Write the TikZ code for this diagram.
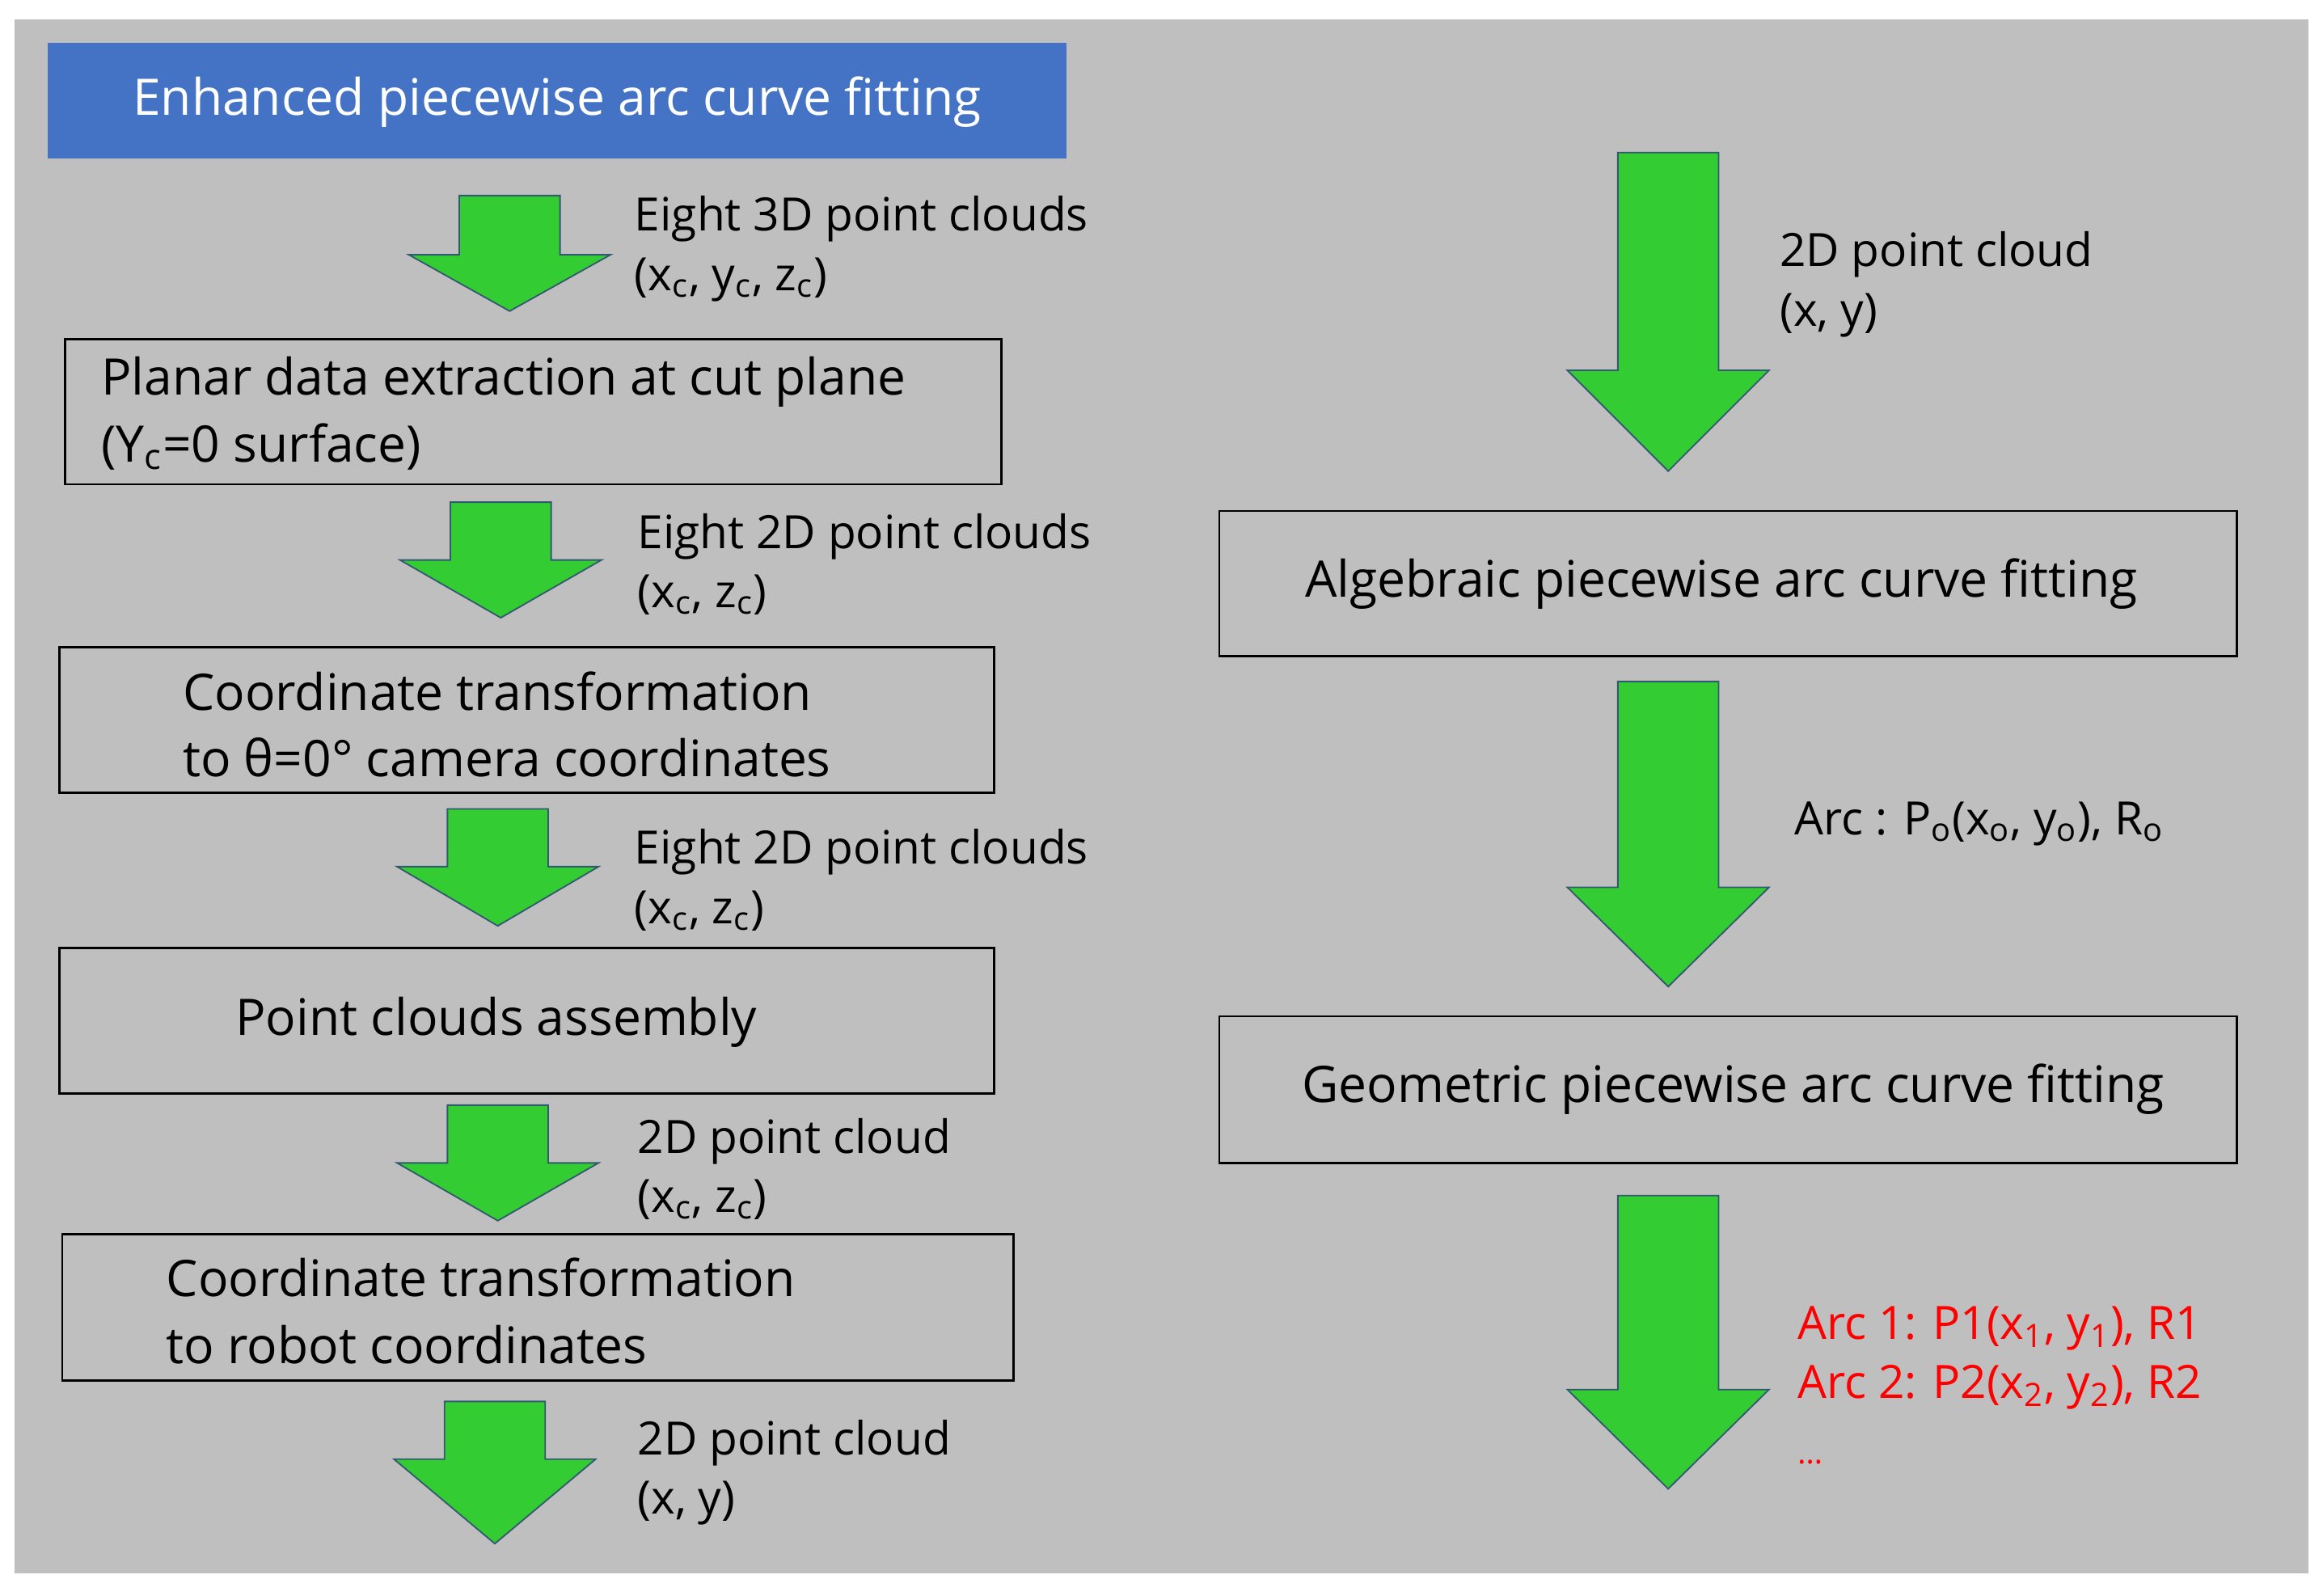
\documentclass[tikz,border=0pt]{standalone}
\usepackage{fontspec}
\setmainfont{Open Sans}
\definecolor{bg}{RGB}{191,191,191}
\definecolor{blu}{RGB}{68,114,196}
\definecolor{grn}{RGB}{51,204,51}
\definecolor{edg}{RGB}{50,90,110}
\begin{document}
\begin{tikzpicture}[x=0.5pt,y=-0.5pt,
  box/.style={draw=black,line width=0.7pt,fill=none},
  lbl/.style={anchor=west,align=left,inner sep=0pt,font=\fontsize{15.5}{20}\selectfont},
  btxt/.style={inner sep=0pt,align=left,font=\fontsize{17}{22.5}\selectfont},
  arr/.style={fill=grn,draw=edg,line width=0.5pt}]
\useasboundingbox (0,0) rectangle (1568,1077);
\fill[white] (0,0) rectangle (1568,1077);
\fill[bg] (10,13) rectangle (1558,1062);
% title
\fill[blu] (32,29) rectangle (720,107);
\node[btxt,text=white] (title) at (376,69) {Enhanced piecewise arc curve fitting};
% left boxes
\draw[box] (44,229) rectangle (676,327);
\node[btxt,anchor=west] (b1) at (68,279) {Planar data extraction at cut plane\\(Y\textsubscript{c}=0 surface)};
\draw[box] (40,437) rectangle (671,535);
\node[btxt,anchor=west] (b2) at (123,489) {Coordinate transformation\\to θ=0° camera coordinates};
\draw[box] (40,640) rectangle (671,738);
\node[btxt] (b3) at (335,690) {Point clouds assembly};
\draw[box] (42,833) rectangle (684,932);
\node[btxt,anchor=west] (b4) at (112,885) {Coordinate transformation\\to robot coordinates};
% right boxes
\draw[box] (823,345) rectangle (1510,443);
\node[btxt] (r1) at (1162,394) {Algebraic piecewise arc curve fitting};
\draw[box] (823,686) rectangle (1510,785);
\node[btxt] (r2) at (1170,735) {Geometric piecewise arc curve fitting};
% left arrows
\foreach \x/\t/\h/\tip in {344/132/172/210, 338/339/378/417, 336/546/585/625, 336/746/785/824, 334/946/985/1042}{
  \draw[arr] (\x-34,\t) -- (\x+34,\t) -- (\x+34,\h) -- (\x+68,\h) -- (\x,\tip) -- (\x-68,\h) -- (\x-34,\h) -- cycle;
}
% right arrows
\foreach \t/\h/\tip in {103/250/318, 460/599/666, 807/938/1005}{
  \draw[arr] (1092,\t) -- (1160,\t) -- (1160,\h) -- (1194,\h) -- (1126,\tip) -- (1058,\h) -- (1092,\h) -- cycle;
}
% labels
\node[lbl] (l1) at (428,168) {Eight 3D point clouds\\(x\textsubscript{c}, y\textsubscript{c}, z\textsubscript{c})};
\node[lbl] (l2) at (430,381) {Eight 2D point clouds\\(x\textsubscript{c}, z\textsubscript{c})};
\node[lbl] (l3) at (428,594) {Eight 2D point clouds\\(x\textsubscript{c}, z\textsubscript{c})};
\node[lbl] (l4) at (430,789) {2D point cloud\\(x\textsubscript{c}, z\textsubscript{c})};
\node[lbl] (l5) at (430,994) {2D point cloud\\(x, y)};
\node[lbl] (l6) at (1201,192) {2D point cloud\\(x, y)};
\node[lbl] (l7) at (1211,556) {Arc : P\textsubscript{o}(x\textsubscript{o}, y\textsubscript{o}), R\textsubscript{o}};
\node[lbl,text=red] (l8) at (1213,935) {Arc 1: P1(x\textsubscript{1}, y\textsubscript{1}), R1\\Arc 2: P2(x\textsubscript{2}, y\textsubscript{2}), R2\\\textsubscript{\dots}};
\end{tikzpicture}
\end{document}
